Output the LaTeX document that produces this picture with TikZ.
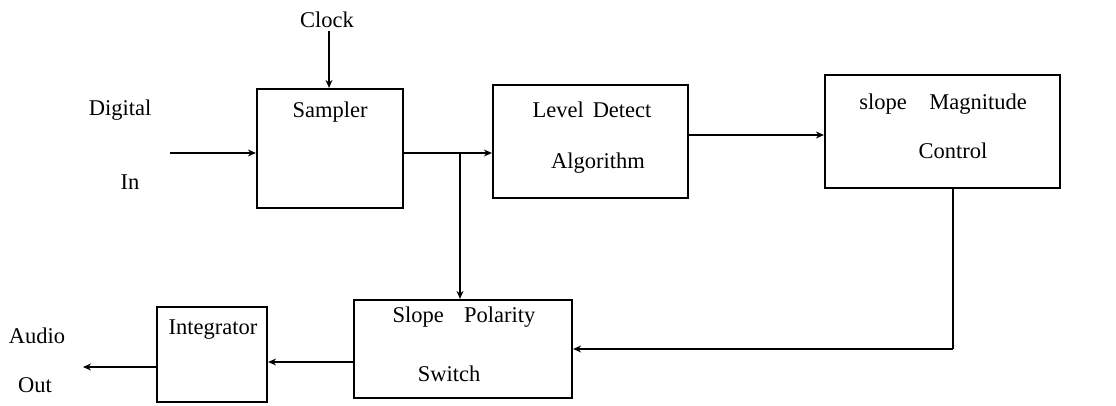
\documentclass[tikz,border=0pt]{standalone}
\usepackage{fontspec}
\setmainfont{Liberation Serif}
\usetikzlibrary{arrows.meta,calc}
\begin{document}
\begin{tikzpicture}[x=1pt,y=-1pt,
  blk/.style={draw,line width=2.2pt,minimum width=#1,inner sep=0pt},
  lbl/.style={font=\fontsize{22.5}{26}\selectfont,inner sep=0pt},
  conn/.style={line width=2.2pt},
  arr/.style={line width=2.2pt,-{Stealth[length=8pt,width=7pt]}}]
\useasboundingbox (0,0) rectangle (1116,406);
% boxes
\node[blk=146pt,minimum height=119pt] (sampler) at (330,148.5) {};
\node[blk=195pt,minimum height=113pt] (level) at (590.5,141.5) {};
\node[blk=235pt,minimum height=113pt] (mag) at (942.5,131.5) {};
\node[blk=218pt,minimum height=98pt] (polarity) at (463,349) {};
\node[blk=110pt,minimum height=95pt] (integ) at (212,354.5) {};
% texts
\node[lbl] (tclock) at (327,20) {Clock};
\node[lbl] (tdig) at (120,110) {Digital};
\node[lbl] (tin) at (130,182) {In};
\node[lbl] (tsamp) at (330,112) {Sampler};
\node[lbl] (tlev1) at (592,110) {Level\hspace{0.4em}Detect};
\node[lbl] (tlev2) at (598,163) {Algorithm};
\node[lbl] (tmag1) at (943,104) {slope\hspace{1em}Magnitude};
\node[lbl] (tmag2) at (953,151) {Control};
\node[lbl] (tpol1) at (464,317) {Slope\hspace{0.9em}Polarity};
\node[lbl] (tpol2) at (449,374) {Switch};
\node[lbl] (tint) at (213,330) {Integrator};
\node[lbl] (taud) at (37,336) {Audio};
\node[lbl] (tout) at (35,385) {Out};
% helper coordinates
\coordinate (din) at (170,153);
\coordinate (branch) at (460,153);
\coordinate (aout) at (83,367);
\coordinate (corner) at (953,349);
\coordinate (lv) at (700,135);
% connectors
\draw[arr] (tclock.south) ++(2,3) coordinate (ck) -- (ck |- sampler.north);
\draw[arr] (din) -- (din -| sampler.west);
\draw[arr] (branch -| sampler.east) -- (branch -| level.west);
\draw[arr] (branch) -- (branch |- polarity.north);
\draw[arr] (lv -| level.east) -- (lv -| mag.west);
\draw[conn] (corner |- mag.south) -- (corner);
\draw[arr] (corner) -- (corner -| polarity.east);
\draw[arr] ($(polarity.west)+(0,13)$) coordinate (pw) -- (pw -| integ.east);
\draw[arr] (aout -| integ.west) -- (aout);
\end{tikzpicture}
\end{document}
